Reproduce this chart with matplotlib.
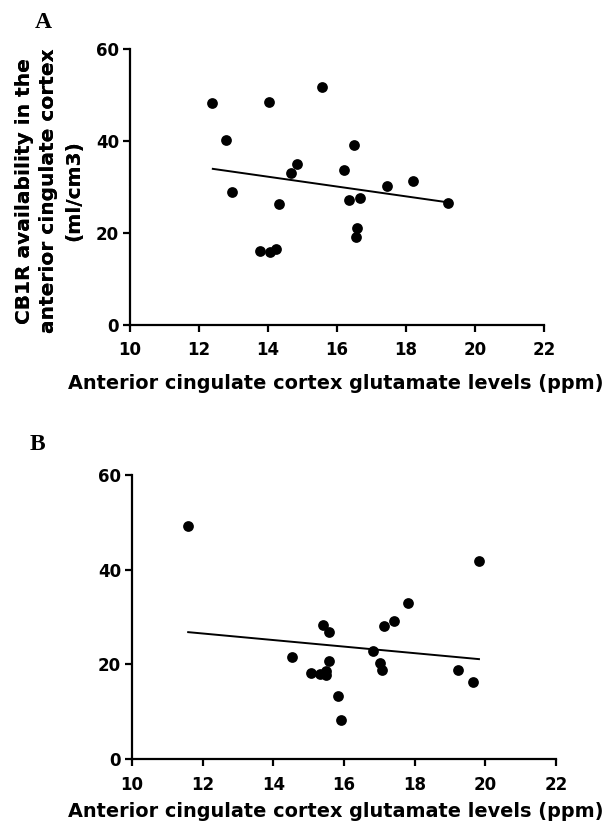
import numpy as np
import matplotlib
matplotlib.use("Agg")
import matplotlib.pyplot as plt

# Panel A data
a_x = [12.39, 12.79, 12.95, 14.03, 14.33, 13.77, 14.06, 14.23, 14.68, 14.84,
       15.56, 16.19, 16.50, 16.34, 16.66, 16.57, 16.55, 17.45, 18.21, 19.22]
a_y = [48.2, 40.2, 28.9, 48.4, 26.3, 16.0, 15.7, 16.4, 32.9, 35.0,
       51.8, 33.6, 39.0, 27.1, 27.6, 21.0, 19.0, 30.2, 31.2, 26.5]
# Panel A regression line endpoints
a_fit_x = [12.40, 19.22]
a_fit_y = [33.9, 26.6]

# Panel B data
b_x = [11.59, 19.82, 17.80, 17.42, 17.12, 15.40, 15.58, 14.52, 15.07, 15.32,
       15.49, 15.49, 15.58, 15.82, 15.92, 16.83, 17.01, 17.07, 19.24, 19.65]
b_y = [49.3, 41.9, 33.0, 29.2, 28.2, 28.4, 26.8, 21.5, 18.1, 17.9,
       18.5, 17.7, 20.7, 13.3, 8.2, 22.9, 20.2, 18.7, 18.7, 16.2]
b_fit_x = [11.59, 19.82]
b_fit_y = [26.8, 21.1]

x_ticks = [10, 12, 14, 16, 18, 20, 22]
y_ticks = [0, 20, 40, 60]
xlabel = "Anterior cingulate cortex glutamate levels (ppm)"
ylabel = "CB1R availability in the\nanterior cingulate cortex\n(ml/cm3)"
panel_labels = ["A", "B"]

plt.rcParams['font.family'] = ['DejaVu Sans']

fig = plt.figure(figsize=(6.13, 8.27), dpi=100)
W, H = 613, 827

def px_axes(l, r, t, b):
    return [l / W, 1 - b / H, (r - l) / W, (b - t) / H]

axes_px = [(130, 544, 49, 324.5), (132, 556, 475, 759)]
xlabel_top = [374, 802]
xlabel_cx = [336, 336]
datasets = [(a_x, a_y, a_fit_x, a_fit_y), (b_x, b_y, b_fit_x, b_fit_y)]
label_pos = [(43, 22), (37, 445)]

for i, ((l, r, t, b), (xs, ys, fx, fy)) in enumerate(zip(axes_px, datasets)):
    ax = fig.add_axes(px_axes(l, r, t, b))
    ax.scatter(xs, ys, s=60, color='black', zorder=3, linewidths=0)
    ax.plot(fx, fy, color='black', lw=1.4, zorder=2)
    ax.set_xlim(10, 22)
    ax.set_ylim(0, 60)
    ax.set_xticks(x_ticks)
    ax.set_yticks(y_ticks)
    for s in ['top', 'right']:
        ax.spines[s].set_visible(False)
    for s in ['left', 'bottom']:
        ax.spines[s].set_linewidth(1.6)
    ax.tick_params(direction='out', length=5, width=1.6, labelsize=12)
    ax.tick_params(axis='x', pad=7)
    ax.tick_params(axis='y', pad=3)
    for lab in ax.get_xticklabels() + ax.get_yticklabels():
        lab.set_fontweight('bold')
    ax.set_xlabel(xlabel, fontsize=13.9, fontweight='bold')
    ax.xaxis.set_label_coords((xlabel_cx[i] - l) / (r - l), -(xlabel_top[i] - b) / (b - t))
    ax.xaxis.label.set_verticalalignment('top')
    ax.set_ylabel(ylabel, fontsize=14.5, fontweight='bold', linespacing=1.35,
                  multialignment='center')
    ax.yaxis.set_label_coords((49 - l) / (r - l), 0.5 - (191 - (t + b) / 2) / (b - t))
    ax.yaxis.label.set_verticalalignment('center')
    lx, ly = label_pos[i]
    fig.text(lx / W, 1 - ly / H, panel_labels[i], fontsize=17, fontweight='bold',
             family=['Liberation Serif', 'DejaVu Serif'], ha='center', va='center')

fig.savefig("out.png", dpi=100)
